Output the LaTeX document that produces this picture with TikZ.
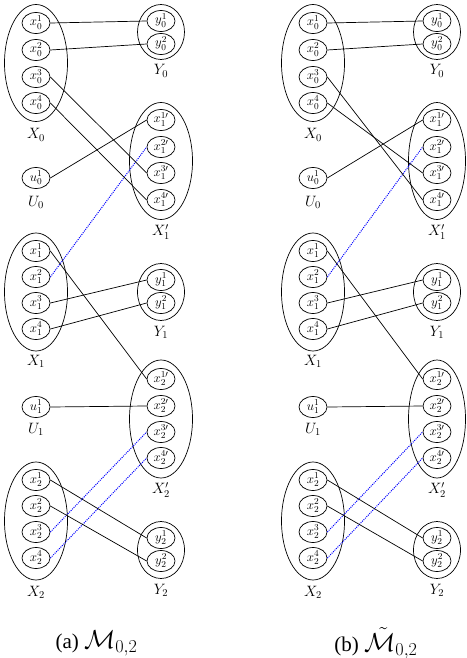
\RequirePackage{fix-cm}
\documentclass[tikz,border=0pt]{standalone}
\usepackage{fontspec}
\setmainfont{Liberation Serif}
\usetikzlibrary{shapes.geometric}
\tikzset{
  sm/.style={draw, ellipse, line width=0.7pt, minimum width=28pt, minimum height=21pt, inner sep=0pt,
    text height=9pt, text depth=3pt, font=\fontsize{13}{15}\selectfont},
  grp/.style={draw, ellipse, line width=0.7pt, inner sep=0pt},
  lbl/.style={inner sep=0pt, font=\fontsize{15}{17}\selectfont},
  captxt/.style={inner sep=0pt, font=\fontsize{21}{25}\selectfont},
  edge/.style={line width=0.7pt},
  bdot/.style={blue, line width=1pt, dash pattern=on 1pt off 1.1pt},
}
\newcommand\capmath[1]{{\fontsize{26}{30}\selectfont$#1$}}
% #1 prefix, #2 column-1 x, #3 column-2 x, #4 width of the X' groups
\newcommand\drawpanel[4]{%
  % X_0
  \node[grp, minimum width=63pt, minimum height=117pt] (#1X0) at (#2,63) {};
  \node[sm] (#1x01) at (#2,23) {$x_0^1$};
  \node[sm] (#1x02) at (#2,50) {$x_0^2$};
  \node[sm] (#1x03) at (#2,77) {$x_0^3$};
  \node[sm] (#1x04) at (#2,103) {$x_0^4$};
  \node[lbl] (#1LX0) at (#2,135) {$X_0$};
  % Y_0
  \node[grp, minimum width=47pt, minimum height=55pt] (#1Y0) at (#3,32) {};
  \node[sm] (#1y01) at (#3,21) {$y_0^1$};
  \node[sm] (#1y02) at (#3,44) {$y_0^2$};
  \node[lbl] (#1LY0) at (#3,71) {$Y_0$};
  % U_0
  \node[sm] (#1u0) at (#2,178) {$u_0^1$};
  \node[lbl] (#1LU0) at (#2,202) {$U_0$};
  % X'_1
  \node[grp, minimum width=#4pt, minimum height=117pt] (#1XP1) at (#3,161) {};
  \node[sm] (#1xp11) at (#3,120) {$x_1^{1\prime}$};
  \node[sm] (#1xp12) at (#3,147) {$x_1^{2\prime}$};
  \node[sm] (#1xp13) at (#3,173) {$x_1^{3\prime}$};
  \node[sm] (#1xp14) at (#3,200) {$x_1^{4\prime}$};
  \node[lbl] (#1LXP1) at (#3,232) {$X_1'$};
  % X_1
  \node[grp, minimum width=63pt, minimum height=118pt] (#1X1) at (#2,292) {};
  \node[sm] (#1x11) at (#2,251) {$x_1^1$};
  \node[sm] (#1x12) at (#2,277) {$x_1^2$};
  \node[sm] (#1x13) at (#2,303) {$x_1^3$};
  \node[sm] (#1x14) at (#2,329) {$x_1^4$};
  \node[lbl] (#1LX1) at (#2,361) {$X_1$};
  % Y_1
  \node[grp, minimum width=47pt, minimum height=57pt] (#1Y1) at (#3,292) {};
  \node[sm] (#1y11) at (#3,280) {$y_1^1$};
  \node[sm] (#1y12) at (#3,303) {$y_1^2$};
  \node[lbl] (#1LY1) at (#3,332) {$Y_1$};
  % X'_2
  \node[grp, minimum width=#4pt, minimum height=118pt] (#1XP2) at (#3,419) {};
  \node[sm] (#1xp21) at (#3,379) {$x_2^{1\prime}$};
  \node[sm] (#1xp22) at (#3,406) {$x_2^{2\prime}$};
  \node[sm] (#1xp23) at (#3,432) {$x_2^{3\prime}$};
  \node[sm] (#1xp24) at (#3,458) {$x_2^{4\prime}$};
  \node[lbl] (#1LXP2) at (#3,490) {$X_2'$};
  % U_1
  \node[sm] (#1u1) at (#2,407) {$u_1^1$};
  \node[lbl] (#1LU1) at (#2,429) {$U_1$};
  % X_2
  \node[grp, minimum width=63pt, minimum height=118pt] (#1X2) at (#2,521) {};
  \node[sm] (#1x21) at (#2,480) {$x_2^1$};
  \node[sm] (#1x22) at (#2,506) {$x_2^2$};
  \node[sm] (#1x23) at (#2,532) {$x_2^3$};
  \node[sm] (#1x24) at (#2,558) {$x_2^4$};
  \node[lbl] (#1LX2) at (#2,592) {$X_2$};
  % Y_2
  \node[grp, minimum width=47pt, minimum height=57pt] (#1Y2) at (#3,550) {};
  \node[sm] (#1y21) at (#3,538) {$y_2^1$};
  \node[sm] (#1y22) at (#3,561) {$y_2^2$};
  \node[lbl] (#1LY2) at (#3,590) {$Y_2$};
  % common connectors
  \draw[edge] (#1x01.east) -- (#1y01.west);
  \draw[edge] (#1x02.east) -- (#1y02.west);
  \draw[edge] (#1u0.east) -- (#1xp11.west);
  \draw[bdot] (#1x12.east) -- (#1xp12.west);
  \draw[edge] (#1x13.east) -- (#1y11.west);
  \draw[edge] (#1x14.east) -- (#1y12.west);
  \draw[edge] (#1x11.east) -- (#1xp21.west);
  \draw[edge] (#1u1.east) -- (#1xp22.west);
  \draw[bdot] (#1x23.east) -- (#1xp23.west);
  \draw[bdot] (#1x24.east) -- (#1xp24.west);
  \draw[edge] (#1x21.east) -- (#1y21.west);
  \draw[edge] (#1x22.east) -- (#1y22.west);
}
\begin{document}
\begin{tikzpicture}[x=1pt,y=-1pt]
  \useasboundingbox (0,0) rectangle (466,658);
  \drawpanel{a}{36}{161}{63}
  \drawpanel{b}{313}{437}{57}
  % panel-specific connectors
  \draw[edge] (ax03.east) -- (axp13.west);
  \draw[edge] (ax04.east) -- (axp14.west);
  \draw[edge] (bx03.east) -- (bxp14.west);
  \draw[edge] (bx04.east) -- (bxp13.west);
  % captions
  \node[captxt] (capa) at (96.5,643) {(a) \capmath{\mathcal{M}_{0,2}}};
  \node[captxt] (capb) at (376,643) {(b) \capmath{\tilde{\mathcal{M}}_{0,2}}};
\end{tikzpicture}
\end{document}
